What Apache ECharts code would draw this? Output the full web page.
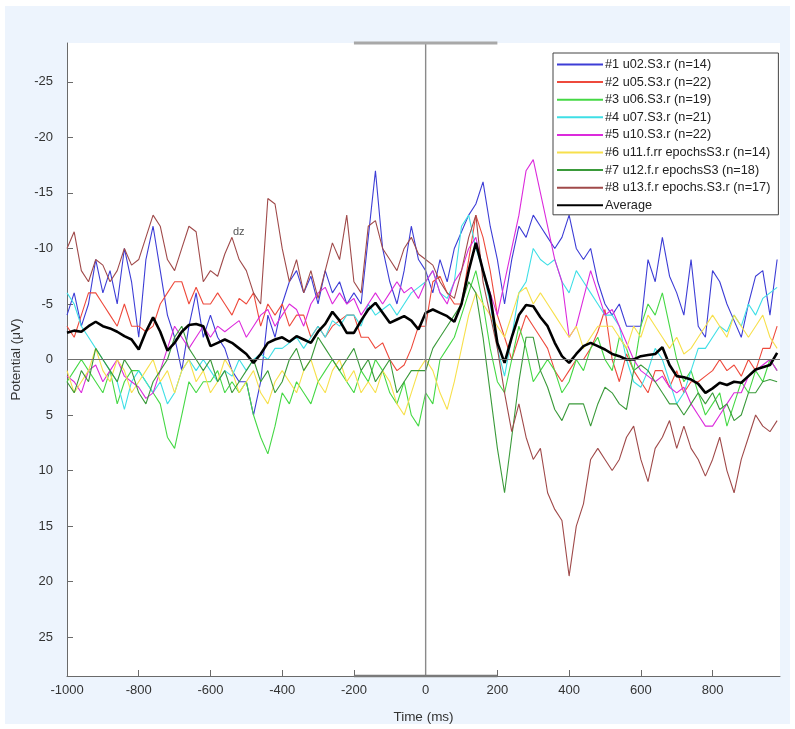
<!DOCTYPE html>
<html>
<head>
<meta charset="utf-8">
<script src="https://cdn.jsdelivr.net/npm/echarts@6/dist/echarts.min.js"></script>
<style>
html,body{margin:0;padding:0;background:#ffffff;}
#chart{width:795px;height:729px;}
</style>
</head>
<body>
<div id="chart"></div>
<script>
// Time grid (ms)
const times = [
-1000,-980,-960,-940,-920,-900,-880,-860,-840,-820,
-800,-780,-760,-740,-720,-700,-680,-660,-640,-620,
-600,-580,-560,-540,-520,-500,-480,-460,-440,-420,
-400,-380,-360,-340,-320,-300,-280,-260,-240,-220,
-200,-180,-160,-140,-120,-100,-80,-60,-40,-20,
0,20,40,60,80,100,120,140,160,180,
200,220,240,260,280,300,320,340,360,380,
400,420,440,460,480,500,520,540,560,580,
600,620,640,660,680,700,720,740,760,780,
800,820,840,860,880,900,920,940,960,980];

const seriesNames = [
  '#1 u02.S3.r (n=14)',
  '#2 u05.S3.r (n=22)',
  '#3 u06.S3.r (n=19)',
  '#4 u07.S3.r (n=21)',
  '#5 u10.S3.r (n=22)',
  '#6 u11.f.rr epochsS3.r (n=14)',
  '#7 u12.f.r epochsS3 (n=18)',
  '#8 u13.f.r epochs.S3.r (n=17)',
  'Average'
];

const s1 = [
-4,-6,-3,-5,-9,-6,-8,-5,-10,-7,
-2,-9,-12,-8,-4,-2,1,-3,-6,-2,
-4,-2,-1,1,2,2,5,2,-4,-2,
-5,-7,-8,-6,-7.5,-5,-8,-6,-7,-5,
-6,-5,-11,-17,-10,-7,-5,-8,-12,-9,
-8,-6,-9,-7,-10,-11.5,-13,-14,-16,-12,
-9,-5,-9,-12,-11,-13,-12,-11,-10,-11,
-13,-10,-9,-10,-7,-5,-4,-5,-3,-3,
-3,-9,-7,-11,-7.5,-6,-4,-9,-3,-2,
-8,-7,-5,-3.5,-2,-5,-7.5,-8,-4,-9];

const s2 = [
-3,-2,-4,-6,-6,-5,-4,-3,-5,-3,
-3,-2.5,-3,-5,-6,-7,-7,-5,-6.5,-5,
-5,-6,-5,-4,-5.5,-5,-6,-3,-5,-4,
-5,-3,-4,-4,-2,-3,-2,-3,-3.5,-4,
-4,-2,-2,-1,-1.5,0,1,0.5,-1,-3,
-3,-7,-7.5,-6,-5,-5,-9,-13,-11,-8,
-4,-2,0,-2,-4,-3,-2,-1,1,2,
1,0,0,-1,-2.5,-4.5,0,2,-0.5,1,
2,3,1,1,2.5,1,3,2,2,1.5,
1,0,1,0.5,1.5,0,1,-1,-1,-3];

const s3 = [
2,1,0,1,2,3,1,4,2,1,
1,2,3,4,7,8,5,2,3,2,
2,1,3,2,3,2,5,7,8.5,6,
3,4,2,3,4,2,1,0,1,2,
3,1,2,0,1,3,4,2,5,6,
3,4,0,-1,-2,-4,-6,-8,-5,-1,
2,3,0,-3,-1,2,1,0,1,3,
2,0,1,-1,-2,0,1,-2,-1,1,
-3,-5,-4,-6,-3,0,2,1,3,5,
4,3,6,4,2,3,1,2,0,1];

const s4 = [
-6,-5,-3,-2,-1,0,1,2,4.5,2,
1,2,3,2,4,3,1,0,1,0,
1,2,1,1.5,0,1,0,-0.5,0,-1,
-1,-1.5,-2,-1,-2,-3,-2,-3.5,-3,-4,
-4,-3,-5,-4,-4.5,-5,-4,-5,-6,-6.5,
-7,-8,-6,-5.5,-7,-12,-13,-10,-8,-5,
-1,1.5,-2,-6,-7,-10,-9,-8.5,-9,-7,
-6,-8,-7,-6,-5,-4,-4,-3,0,2,
2.5,1,-1,0,2,4,3,1,-1,-1,
-2,-3,-2.5,-4,-3,-5,-4,-5.5,-6,-6.5];

const s5 = [
1.5,2,3,1,0.5,2,1,0,1.5,2,
2.5,3.5,3,1,-1,-3,-2,-1,-2,-3,
-2,-3,-2.5,-3,-3.5,-2,-3,-4,-4.5,-3,
-4,-5,-4.5,-3,-5,-6,-6.5,-5,-6,-5,
-5.5,-4,-5,-6,-5,-6,-7,-6,-6.5,-5.5,
-7,-8,-6,-5,-7,-8,-10,-11,-8,-6,
-4,-7,-10,-13,-17,-18,-15,-12,-9,-7,
-2,-3,-5.5,-8,-6,-4,-4.5,-3,-1.5,0,
1,1.5,2,1.5,2.5,3,2.5,4,5,6,
6,5,4,3,3,1.5,1,0.5,0,1];

const s6 = [
1,3,2,1,-1,1,2,0,1,3,
2,1,0,2,1,3,1,0,2,1,
3,2,0,1,3,2,1,3,4,2,
1,2,3,1,0,2,3,1,0,2,
1,3,2,3,1,2,4,5,3,1,
0,1,3,4.5,2,-1,-4,-6,-5,-4,
-3,-2,-4,-6,-6.5,-5,-6,-5,-4,-3,
-2,-3,-1,-2,-3,-3,-3,-2,-1,-3,
-2,-4,-3,-2,-1,-2,-0.5,-1,-2,-3,
-4,-3,-2,-4,-3,-2,-3,-4,-2,-1];

const s7 = [
2,3,1,2,-1,0,1,2,0,1,
3,4,2,1,0,-2,-3,-1,0,1,
0,2,1,3,2,1,0,2,1,3,
2,0,-1,1,0,-2,-1,0,1,0,
-1,1,0,2,1,0,3,2,1,1,
1,-1,-2,-3,-4,-5,-7,-6,-2,3,
8,12,7,2,-2,-2,1,2.5,4.5,5.5,
4,4,4,6,4,2.5,3,4,4.5,1,
0.5,1,2,3,4,4,5,4,3,4,
3,4.5,4,5.5,5,3,3,2,1.8,2];

const s8 = [
-10,-11.5,-8,-7,-9,-8.5,-7,-8,-10,-8.5,
-9,-11,-13,-12,-9,-8,-10,-12,-11.5,-7,
-8,-7.5,-9.5,-11,-9,-8,-6,-5,-14.5,-14,
-10,-7,-9,-6,-8,-5.5,-8,-10.5,-9,-13,
-7,-6,-12,-12.5,-10,-9,-8,-10,-11,-9.5,
-9,-8.5,-7,-6,-5.5,-8,-11,-13,-7,-4,
-1,3,6.5,4,7,9,8,12,13.5,14.5,
19.5,15,13,9,8,9,10,9,7,6,
9,11,8,7,5.5,8,6,8,9,10.5,
9,7,10,12,9,7,5,6,6.5,5.5];

const avg = [
-2.4,-2.6,-2.5,-3,-3.4,-3,-2.8,-2.5,-2.1,-1.8,
-0.9,-2.5,-3.8,-2.5,-0.8,-1.5,-2.5,-3.1,-3.2,-3,
-1.2,-1.5,-1.8,-1.5,-1,-0.5,0.3,-0.5,-1.5,-1.8,
-2,-1.6,-2.1,-1.8,-1.5,-2.5,-3.2,-4.3,-3.5,-2.4,
-2.4,-3.5,-4.5,-5.1,-4.2,-3.3,-3.6,-3.9,-3.5,-2.7,
-4.2,-4.5,-4.2,-3.9,-3.4,-5,-8,-10.5,-8,-5.7,
-1.5,0.3,-2,-4,-4.9,-4.8,-3.8,-3,-1.5,-0.3,
0.3,-0.5,-1.2,-1.5,-1.2,-0.9,-0.5,-0.3,0,0,
-0.3,-0.4,-0.5,-1.1,0.5,1.5,1.6,1.8,2.2,3,
2.6,2.1,2.3,2,2.1,1.5,0.9,0.7,0.5,-0.6];

const yTicks = [-25,-20,-15,-10,-5,0,5,10,15,20,25];
const xTicks = [-1000,-800,-600,-400,-200,0,200,400,600,800];
const stimBar = [-200, 200];
const xRange = [-1000, 988];
const yRange = [-28.5, 28.5];

const colors = ['#3d3dd6','#ee4a3c','#45d845','#3fdfe6','#dc2adc','#f7e04c','#3a9a3a','#a04a4a','#000000'];
const allValues = [s1,s2,s3,s4,s5,s6,s7,s8,avg];

const FONT = '"Liberation Sans", Arial, Helvetica, sans-serif';

const series = allValues.map((vals, i) => ({
  name: seriesNames[i],
  type: 'line',
  data: times.map((t, k) => [t, vals[k]]),
  symbol: 'none',
  showSymbol: false,
  smooth: false,
  lineStyle: { color: colors[i], width: i === 8 ? 2.6 : 1.1 },
  itemStyle: { color: colors[i] },
  emphasis: { disabled: true },
  animation: false,
  z: i === 8 ? 5 : 3
}));

// zero lines
series.push({
  name: 'zeroH', type: 'line', symbol: 'none', silent: true, animation: false,
  data: [[xRange[0], 0], [xRange[1], 0]],
  lineStyle: { color: '#6f6f6f', width: 1 }, z: 6
});
series.push({
  name: 'zeroV', type: 'line', symbol: 'none', silent: true, animation: false,
  data: [[0, yRange[0]], [0, yRange[1]]],
  lineStyle: { color: '#8a8a8a', width: 1.4 }, z: 6
});
// stimulus bars
series.push({
  name: 'barTop', type: 'line', symbol: 'none', silent: true, animation: false, clip: false,
  data: [[stimBar[0], yRange[0]], [stimBar[1], yRange[0]]],
  lineStyle: { color: '#a8a8a8', width: 3 }, z: 7
});
series.push({
  name: 'barBottom', type: 'line', symbol: 'none', silent: true, animation: false, clip: false,
  data: [[stimBar[0], yRange[1]], [stimBar[1], yRange[1]]],
  lineStyle: { color: '#7a7a7a', width: 2.5 }, z: 7
});

const chart = echarts.init(document.getElementById('chart'), null, { renderer: 'canvas' });
chart.setOption({
  animation: false,
  backgroundColor: '#ffffff',
  graphic: [
    { type: 'rect', left: 5, top: 6, shape: { width: 785, height: 718 }, style: { fill: '#edf4fd' }, z: -10, silent: true },
    { type: 'text', left: 233, top: 226, style: { text: 'dz', fill: '#555', font: '11px ' + FONT }, z: 10, silent: true }
  ],
  grid: { left: 67, right: 15, top: 43, bottom: 51, show: true, backgroundColor: '#ffffff', borderWidth: 0 },
  legend: {
    data: seriesNames,
    orient: 'vertical',
    left: 553, top: 53,
    padding: [5, 8, 3, 3],
    itemWidth: 46, itemHeight: 12, itemGap: 4.6,
    backgroundColor: '#ffffff',
    borderColor: '#444', borderWidth: 1, borderRadius: 0,
    selectedMode: false,
    itemStyle: { opacity: 0 },
    textStyle: { fontFamily: FONT, fontSize: 12.7, color: '#222', padding: [0, 0, 0, -3] }
  },
  xAxis: {
    type: 'value', min: xRange[0], max: xRange[1],
    name: 'Time (ms)', nameLocation: 'middle', nameGap: 34,
    nameTextStyle: { fontFamily: FONT, fontSize: 13.5, color: '#333' },
    axisLine: { show: true, onZero: false, lineStyle: { color: '#6a6a6a', width: 1 } },
    axisTick: { show: true, inside: true, length: 6, customValues: xTicks, lineStyle: { color: '#6a6a6a' } },
    axisLabel: { customValues: xTicks, margin: 8, fontFamily: FONT, fontSize: 13, color: '#333', formatter: v => String(v) },
    splitLine: { show: false }
  },
  yAxis: {
    type: 'value', min: yRange[0], max: yRange[1], inverse: true,
    name: 'Potential (\u03bcV)', nameLocation: 'middle', nameGap: 28, nameRotate: 90,
    nameTextStyle: { fontFamily: FONT, fontSize: 13.5, color: '#333' },
    axisLine: { show: true, onZero: false, lineStyle: { color: '#6a6a6a', width: 1 } },
    axisTick: { show: true, inside: true, length: 6, customValues: yTicks, lineStyle: { color: '#6a6a6a' } },
    axisLabel: { customValues: yTicks, margin: 14, fontFamily: FONT, fontSize: 13, color: '#333', formatter: v => String(v) },
    splitLine: { show: false }
  },
  series: series
});
</script>
</body>
</html>
